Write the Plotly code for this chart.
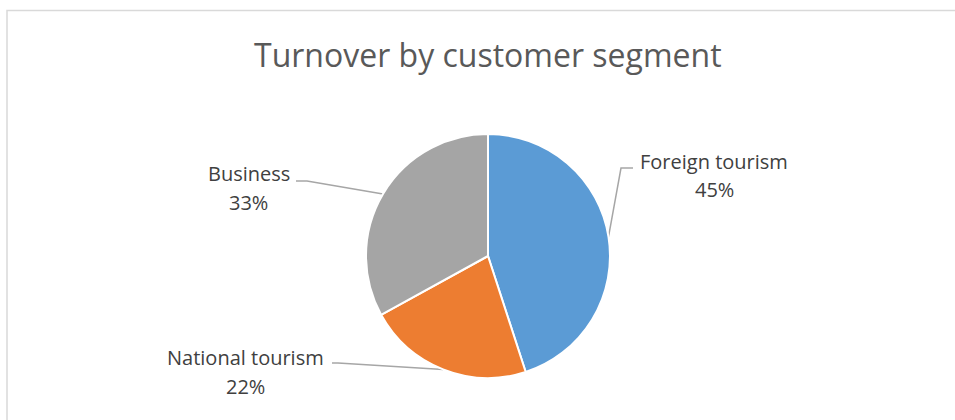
import math
import plotly.graph_objects as go

# Data
segments = ["Foreign tourism", "National tourism", "Business"]
shares = [45, 22, 33]
colors = ["#5B9BD5", "#ED7D31", "#A5A5A5"]

W, H = 955, 420
CX, CY, R = 488, 256, 122  # pie centre and radius in pixels

def px(x):
    return x / W

def py(y):
    return 1 - y / H

# Label placement (pixels): name line centre, value line centre, line start, elbow
label_layout = {
    "Foreign tourism": dict(name=(714, 161), value=(714, 190), start=(633, 168), elbow=(621, 168)),
    "National tourism": dict(name=(245, 357), value=(245, 386), start=(332, 363), elbow=(338, 363)),
    "Business": dict(name=(249, 173), value=(249, 202), start=(296, 181), elbow=(307, 181)),
}

fig = go.Figure(go.Pie(
    labels=segments,
    values=shares,
    marker=dict(colors=colors, line=dict(color="white", width=2)),
    sort=False,
    direction="clockwise",
    rotation=0,
    textinfo="none",
    hoverinfo="label+percent",
    domain=dict(x=[px(CX - R), px(CX + R)], y=[py(CY + R), py(CY - R)]),
    showlegend=False,
))

label_font = dict(family="Open Sans", size=20, color="#404040")
total = sum(shares)
cum = 0.0
annotations = []
shapes = []
for name, val in zip(segments, shares):
    mid = (cum + val / 2) / total * 2 * math.pi
    cum += val
    ex = CX + R * math.sin(mid)
    ey = CY - R * math.cos(mid)
    lay = label_layout[name]
    sx, sy = lay["start"]
    bx, by = lay["elbow"]
    path = f"M {px(sx)},{py(sy)} L {px(bx)},{py(by)} L {px(ex)},{py(ey)}"
    shapes.append(dict(type="path", xref="paper", yref="paper", path=path,
                       line=dict(color="#A6A6A6", width=1.5), layer="below"))
    nx, ny = lay["name"]
    vx, vy = lay["value"]
    annotations.append(dict(x=px(nx), y=py(ny), xref="paper", yref="paper",
                            text=name, showarrow=False, xanchor="center",
                            yanchor="middle", font=label_font))
    annotations.append(dict(x=px(vx), y=py(vy), xref="paper", yref="paper",
                            text=f"{round(val / total * 100)}%", showarrow=False,
                            xanchor="center", yanchor="middle", font=label_font))

# Chart frame
shapes.append(dict(type="rect", xref="paper", yref="paper",
                   x0=px(7), x1=1.02, y0=-0.02, y1=py(10.5),
                   line=dict(color="#D9D9D9", width=1.5), fillcolor="rgba(0,0,0,0)"))

annotations.append(dict(
    x=px(488), y=py(55), xref="paper", yref="paper",
    text="Turnover by customer segment", showarrow=False,
    xanchor="center", yanchor="middle",
    font=dict(family="Open Sans", size=32, color="#595959"),
))

fig.update_layout(
    width=W, height=H,
    margin=dict(l=0, r=0, t=0, b=0),
    paper_bgcolor="white",
    plot_bgcolor="white",
    annotations=annotations,
    shapes=shapes,
)

fig.write_html("out.html")
